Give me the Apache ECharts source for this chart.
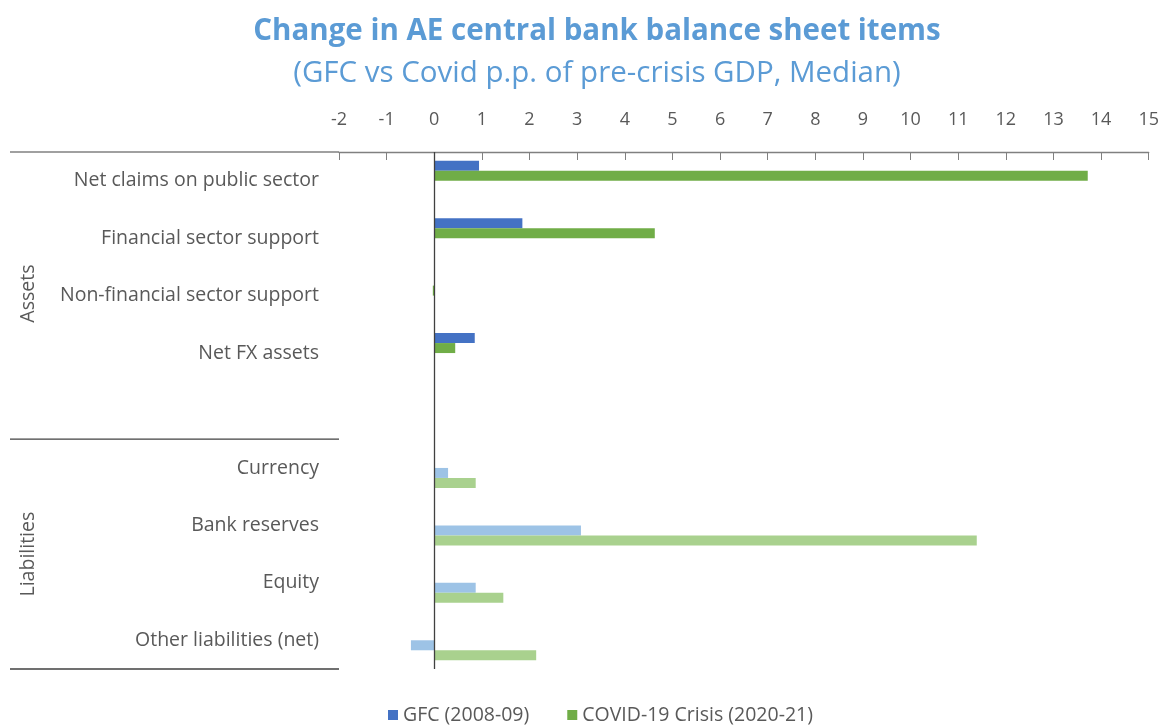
<!DOCTYPE html>
<html>
<head>
<meta charset="utf-8">
<script src="https://cdn.jsdelivr.net/npm/echarts@6/dist/echarts.min.js"></script>
<style>
  html, body { margin: 0; padding: 0; background: #fff; }
  #chart { width: 1162px; height: 725px; }
</style>
</head>
<body>
<div id="chart"></div>
<script>
// Balance sheet items; the empty entry is a spacer row between the two groups
const categories = [
  'Net claims on public sector',
  'Financial sector support',
  'Non-financial sector support',
  'Net FX assets',
  '',
  'Currency',
  'Bank reserves',
  'Equity',
  'Other liabilities (net)'
];
const groupNames = ['Assets', 'Liabilities'];
// Asset rows use the darker bars, liability rows the lighter ones
const gfcAssets     = [0.94, 1.85, 0, 0.85, null, null, null, null, null];
const covidAssets   = [13.72, 4.63, -0.03, 0.44, null, null, null, null, null];
const gfcLiabs      = [null, null, null, null, null, 0.29, 3.08, 0.87, -0.49];
const covidLiabs    = [null, null, null, null, null, 0.87, 11.39, 1.45, 2.14];
const seriesNames = ['GFC (2008-09)', 'COVID-19 Crisis (2020-21)'];

const FONT = '"Segoe UI", "Open Sans", "Noto Sans", sans-serif';
const GREY = '#595959';

const chart = echarts.init(document.getElementById('chart'));

function bar(name, data, color) {
  return {
    name: name,
    type: 'bar',
    data: data,
    barWidth: 10,
    barGap: '0%',
    barCategoryGap: '30%',
    itemStyle: { color: color }
  };
}

const series = [
  bar(seriesNames[0], gfcAssets, '#4472C4'),
  bar(seriesNames[1], covidAssets, '#70AD47'),
  bar(seriesNames[0] + ' ', gfcLiabs, '#9DC3E6'),
  bar(seriesNames[1] + ' ', covidLiabs, '#A9D18E')
];
// vertical zero line across the plot
series[0].markLine = {
  silent: true,
  symbol: 'none',
  label: { show: false },
  lineStyle: { color: '#404040', width: 1.3, type: 'solid' },
  data: [{ xAxis: 0 }]
};

chart.setOption({
  animation: false,
  textStyle: { fontFamily: FONT },
  title: [
    {
      text: 'Change in AE central bank balance sheet items',
      left: 592, top: 12, textAlign: 'center',
      textStyle: { fontFamily: FONT, fontSize: 29.5, fontWeight: 'bold', color: '#5B9BD5' }
    },
    {
      text: '(GFC vs Covid p.p. of pre-crisis GDP, Median)',
      left: 592, top: 54, textAlign: 'center',
      textStyle: { fontFamily: FONT, fontSize: 29.5, fontWeight: 'normal', color: '#5B9BD5' }
    }
  ],
  legend: {
    data: seriesNames,
    bottom: -5,
    left: 383,
    icon: 'rect',
    itemWidth: 10,
    itemHeight: 10,
    itemGap: 38,
    textStyle: { fontFamily: FONT, fontSize: 19.5, color: GREY }
  },
  grid: { left: 339, right: 13, top: 152, bottom: 56 },
  xAxis: {
    type: 'value',
    position: 'top',
    min: -2, max: 15, interval: 1,
    axisLine: { show: true, lineStyle: { color: '#808080', width: 1.3 } },
    axisTick: { show: true, inside: true, length: 8, lineStyle: { color: '#808080' } },
    splitLine: { show: false },
    axisLabel: { color: GREY, fontSize: 18, margin: 23, fontFamily: FONT }
  },
  yAxis: {
    type: 'category',
    inverse: true,
    data: categories,
    axisLine: { show: false, onZero: false },
    axisTick: { show: false },
    axisLabel: { color: GREY, fontSize: 19.5, margin: 20, fontFamily: FONT }
  },
  series: series
});

// Group separators and group names to the left of the category labels
function drawGroups() {
  const top = chart.convertToPixel({ yAxisIndex: 0 }, 0);
  const step = chart.convertToPixel({ yAxisIndex: 0 }, 1) - top;
  const yTop = top - step / 2;
  const ySplit = yTop + step * 5;
  const yBottom = yTop + step * categories.length;
  const xLeft = chart.convertToPixel({ xAxisIndex: 0 }, -2);
  const lineStyle = { stroke: '#404040', lineWidth: 1.3 };
  const mk = (y, color) => ({
    type: 'line', silent: true,
    shape: { x1: 10, y1: y, x2: xLeft, y2: y },
    style: Object.assign({}, lineStyle, color ? { stroke: color } : {})
  });
  const label = (text, yc) => ({
    type: 'text', silent: true,
    x: 28, y: yc, rotation: Math.PI / 2,
    style: {
      text: text, fill: GREY, font: '19.5px ' + FONT,
      align: 'center', verticalAlign: 'middle'
    }
  });
  // the asset group spans its four rows plus the spacer row
  const assetsMid = (yTop + ySplit) / 2 - 2;
  const liabMid = yTop + step * 7;
  chart.setOption({
    graphic: [
      mk(yTop, '#808080'),
      mk(ySplit),
      mk(yBottom),
      label(groupNames[0], assetsMid),
      label(groupNames[1], liabMid)
    ]
  });
}
drawGroups();
</script>
</body>
</html>
